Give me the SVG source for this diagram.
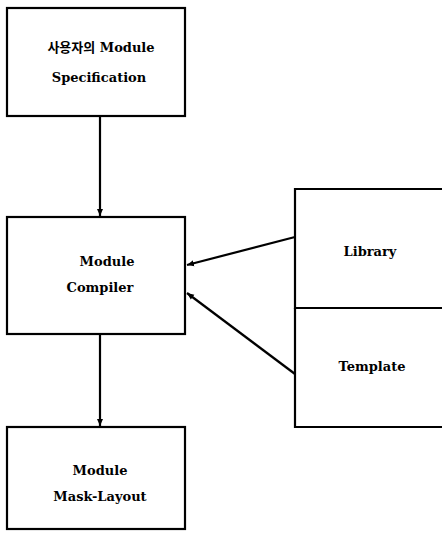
<svg xmlns="http://www.w3.org/2000/svg" width="442" height="540" viewBox="0 0 442 540">
<defs>
<marker id="ah" markerWidth="8" markerHeight="8" refX="7" refY="4" orient="auto" markerUnits="userSpaceOnUse">
<path d="M0,1 L7,4 L0,7 Z" fill="#000"/>
</marker>
</defs>
<style>
.box{fill:#fff;stroke:#000;stroke-width:2.2}
.edge{fill:none;stroke:#000;stroke-width:2.2}
text{font-family:"DejaVu Serif","Noto Sans CJK KR",serif;font-weight:bold;font-size:13px;text-anchor:middle;fill:#000}
</style>
<rect width="442" height="540" fill="#fff"/>
<g id="spec">
<rect class="box" x="7" y="8" width="178" height="108"/>
<text x="101" y="52">사용자의 Module</text>
<text x="99" y="82">Specification</text>
</g>
<g id="compiler">
<rect class="box" x="7" y="217" width="178" height="117"/>
<text x="107" y="266">Module</text>
<text x="100" y="292">Compiler</text>
</g>
<g id="mask">
<rect class="box" x="7" y="427" width="178" height="102"/>
<text x="100" y="475">Module</text>
<text x="100" y="501">Mask-Layout</text>
</g>
<g id="library">
<path class="edge" d="M443,189 H295 V308 H443"/>
<text x="370" y="256">Library</text>
</g>
<g id="template">
<path class="edge" d="M295,308 V427 H443"/>
<text x="372" y="371">Template</text>
</g>
<g id="connectors">
<line class="edge" x1="100" y1="116" x2="100" y2="216" marker-end="url(#ah)"/>
<line class="edge" x1="100" y1="334" x2="100" y2="426" marker-end="url(#ah)"/>
<line class="edge" x1="295" y1="237" x2="187" y2="265" marker-end="url(#ah)"/>
<line class="edge" x1="295" y1="374" x2="187" y2="293" marker-end="url(#ah)"/>
</g>
</svg>
